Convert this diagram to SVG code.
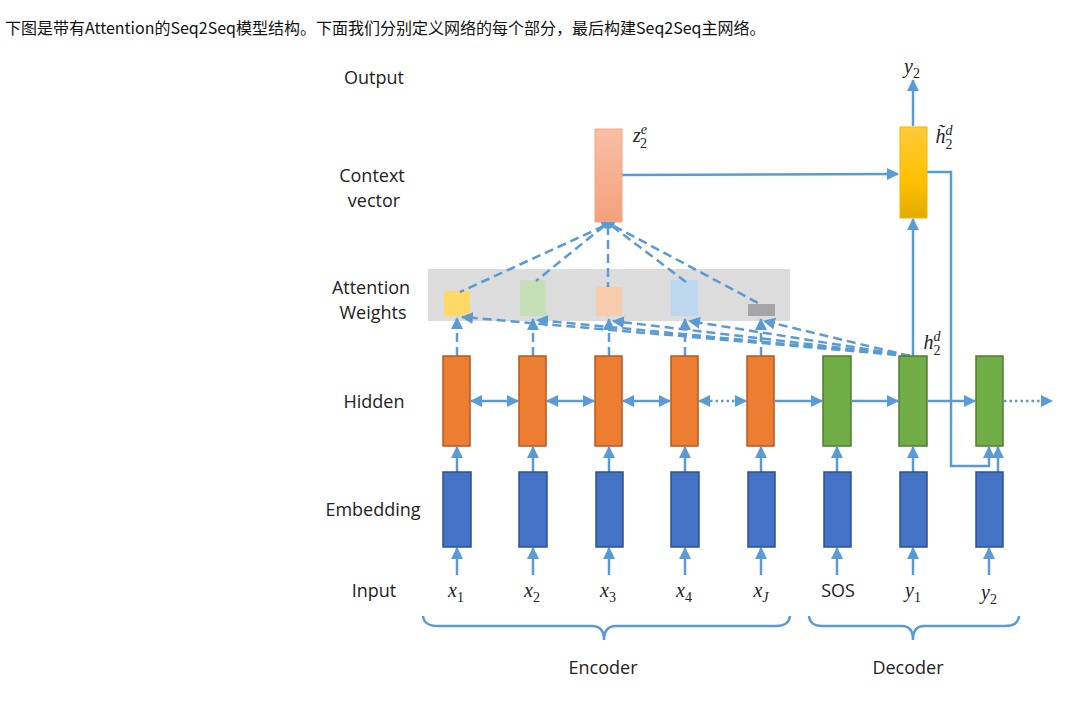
<svg xmlns="http://www.w3.org/2000/svg" width="1071" height="714" viewBox="0 0 1071 714">
<defs>
<marker id="ah" markerUnits="userSpaceOnUse" markerWidth="12" markerHeight="12" viewBox="0 0 12 12" refX="11" refY="6" orient="auto-start-reverse"><path d="M0,0 L12,6 L0,12 z" fill="#5B9BD5"/></marker>
<linearGradient id="gctx" x1="0" y1="0" x2="0" y2="1"><stop offset="0" stop-color="#F8BFA5"/><stop offset="1" stop-color="#F4A07A"/></linearGradient>
<linearGradient id="gdec" x1="0" y1="0" x2="0" y2="1"><stop offset="0" stop-color="#FFCA3A"/><stop offset="0.6" stop-color="#FFC000"/><stop offset="1" stop-color="#E2AC00"/></linearGradient>
<style>
.lbl{font-family:"Open Sans","Liberation Sans",sans-serif;font-size:18px;fill:#222;text-anchor:middle}
.math{font-family:"Liberation Serif","DejaVu Serif",serif;font-style:italic;font-size:20px;fill:#222;text-anchor:middle}
.sub{font-style:normal;font-size:14px}
.sup{font-style:italic;font-size:14px}
.c{stroke:#5B9BD5;stroke-width:2.5;fill:none}
.d{stroke:#5B9BD5;stroke-width:2.5;fill:none;stroke-dasharray:9 5}
.dot{stroke:#5B9BD5;stroke-width:2.5;fill:none;stroke-dasharray:2.5 3}
.enc{fill:#ED7D31;stroke:#B65A1E;stroke-width:1.5}
.dec{fill:#70AD47;stroke:#507E32;stroke-width:1.5}
.emb{fill:#4472C4;stroke:#2F528F;stroke-width:1.5}
</style>
</defs>
<rect width="1071" height="714" fill="#fff"/>
<text x="5" y="34" font-family="'Noto Sans CJK SC',sans-serif" font-size="16" fill="#111">下图是带有Attention的Seq2Seq模型结构。下面我们分别定义网络的每个部分，最后构建Seq2Seq主网络。</text>

<g id="row-labels">
<text class="lbl" x="374" y="84">Output</text>
<text class="lbl" x="372" y="182">Context</text>
<text class="lbl" x="374" y="207">vector</text>
<text class="lbl" x="371" y="294">Attention</text>
<text class="lbl" x="373" y="319">Weights</text>
<text class="lbl" x="374" y="408">Hidden</text>
<text class="lbl" x="373" y="516">Embedding</text>
<text class="lbl" x="374" y="597">Input</text>
</g>

<g id="attention-band"><rect x="428" y="269" width="362" height="52" fill="#DCDCDC"/></g>
<g id="attention-weights">
<rect x="444" y="291" width="26" height="25" fill="#FFD966"/>
<rect x="520" y="280" width="26" height="36" fill="#C5E0B4"/>
<rect x="596" y="287" width="26" height="29" fill="#F8CBAD"/>
<rect x="671" y="280" width="27" height="36" fill="#BDD7EE"/>
<rect x="748" y="304" width="27" height="12" fill="#A5A5A5"/>
</g>

<g id="connectors">
<path class="d" d="M604,226 L460,292"/>
<path class="d" d="M604,226 L536,281"/>
<path class="d" d="M608,226 L608,287"/>
<path class="d" d="M612,226 L686,282"/>
<path class="d" d="M614,226 L760,304"/>
<path class="d" d="M910,356 L462,317" marker-end="url(#ah)"/>
<path class="d" d="M910,356 L537,320" marker-end="url(#ah)"/>
<path class="d" d="M910,356 L613,321" marker-end="url(#ah)"/>
<path class="d" d="M910,356 L689,321" marker-end="url(#ah)"/>
<path class="d" d="M910,356 L764,321" marker-end="url(#ah)"/>
<path class="d" d="M457,356 L457,318" marker-end="url(#ah)"/>
<path class="d" d="M533,356 L533,319" marker-end="url(#ah)"/>
<path class="d" d="M609,356 L609,319" marker-end="url(#ah)"/>
<path class="d" d="M685,356 L685,319" marker-end="url(#ah)"/>
<path class="d" d="M761,356 L761,319" marker-end="url(#ah)"/>
<path class="c" d="M622,175 L898,174" marker-end="url(#ah)"/>
<path class="c" d="M913,356 L913,219" marker-end="url(#ah)"/>
<path class="c" d="M913,126 L913,80" marker-end="url(#ah)"/>
<path class="c" d="M927,172 L951,172 L951,466 L989,466 L989,447" marker-end="url(#ah)"/>
<path class="c" d="M471,401 L518,401" marker-start="url(#ah)" marker-end="url(#ah)"/>
<path class="c" d="M547,401 L594,401" marker-start="url(#ah)" marker-end="url(#ah)"/>
<path class="c" d="M623,401 L670,401" marker-start="url(#ah)" marker-end="url(#ah)"/>
<path class="dot" d="M699,401 L746,401" marker-start="url(#ah)" marker-end="url(#ah)"/>
<path class="c" d="M775,401 L822,401" marker-end="url(#ah)"/>
<path class="c" d="M852,401 L898,401" marker-end="url(#ah)"/>
<path class="c" d="M928,401 L975,401" marker-end="url(#ah)"/>
<path class="dot" d="M1004,401 L1052,401" marker-end="url(#ah)"/>
<path class="c" d="M457,472 L457,447" marker-end="url(#ah)"/>
<path class="c" d="M533,472 L533,447" marker-end="url(#ah)"/>
<path class="c" d="M609,472 L609,447" marker-end="url(#ah)"/>
<path class="c" d="M685,472 L685,447" marker-end="url(#ah)"/>
<path class="c" d="M761,472 L761,447" marker-end="url(#ah)"/>
<path class="c" d="M837,472 L837,447" marker-end="url(#ah)"/>
<path class="c" d="M913,472 L913,447" marker-end="url(#ah)"/>
<path class="c" d="M998,472 L998,447" marker-end="url(#ah)"/>
<path class="c" d="M457,575 L457,548" marker-end="url(#ah)"/>
<path class="c" d="M533,575 L533,548" marker-end="url(#ah)"/>
<path class="c" d="M609,575 L609,548" marker-end="url(#ah)"/>
<path class="c" d="M685,575 L685,548" marker-end="url(#ah)"/>
<path class="c" d="M761,575 L761,548" marker-end="url(#ah)"/>
<path class="c" d="M837,575 L837,548" marker-end="url(#ah)"/>
<path class="c" d="M913,575 L913,548" marker-end="url(#ah)"/>
<path class="c" d="M989,575 L989,548" marker-end="url(#ah)"/>
<path class="c" d="M423,616 Q424,626 438,626 L592,626 Q604,626 604,640 Q604,626 616,626 L776,626 Q789,626 790,616"/>
<path class="c" d="M809,616 Q810,626 822,626 L902,626 Q913,626 913,640 Q913,626 924,626 L1005,626 Q1018,626 1019,616"/>
</g>

<g id="context-vector">
<rect x="595" y="129" width="27" height="93" fill="url(#gctx)" stroke="#F4A57E" stroke-width="1"/>
<path d="M601,222 A7,7 0 0 0 615,222 Z" fill="#5B9BD5"/>
<text class="math" x="640" y="142">z<tspan class="sup" dy="-8">e</tspan><tspan class="sub" dx="-7" dy="14">2</tspan></text>
</g>

<g id="decoder-attn">
<rect x="900" y="127" width="27" height="91" fill="url(#gdec)" stroke="#F2B800" stroke-width="1"/>
<text class="math" x="944" y="143">h̃<tspan class="sup" dy="-8">d</tspan><tspan class="sub" dx="-7" dy="14">2</tspan></text>
<text class="math" x="912" y="73">y<tspan class="sub" dy="5">2</tspan></text>
</g>

<g id="enc-hidden">
<rect class="enc" x="443" y="356" width="27" height="90"/>
<rect class="enc" x="519" y="356" width="27" height="90"/>
<rect class="enc" x="595" y="356" width="27" height="90"/>
<rect class="enc" x="671" y="356" width="27" height="90"/>
<rect class="enc" x="747" y="356" width="27" height="90"/>
</g>
<g id="dec-hidden">
<rect class="dec" x="823" y="356" width="28" height="90"/>
<rect class="dec" x="899" y="356" width="28" height="90"/>
<rect class="dec" x="976" y="356" width="27" height="90"/>
<text class="math" x="932" y="349">h<tspan class="sup" dy="-8">d</tspan><tspan class="sub" dx="-7" dy="14">2</tspan></text>
</g>
<g id="embedding">
<rect class="emb" x="443" y="472" width="28" height="75"/>
<rect class="emb" x="519" y="472" width="28" height="75"/>
<rect class="emb" x="596" y="472" width="27" height="75"/>
<rect class="emb" x="671" y="472" width="28" height="75"/>
<rect class="emb" x="748" y="472" width="27" height="75"/>
<rect class="emb" x="824" y="472" width="27" height="75"/>
<rect class="emb" x="900" y="472" width="27" height="75"/>
<rect class="emb" x="976" y="472" width="27" height="75"/>
</g>
<g id="inputs">
<text class="math" x="456" y="597">x<tspan class="sub" dy="5">1</tspan></text>
<text class="math" x="532" y="597">x<tspan class="sub" dy="5">2</tspan></text>
<text class="math" x="608" y="597">x<tspan class="sub" dy="5">3</tspan></text>
<text class="math" x="684" y="597">x<tspan class="sub" dy="5">4</tspan></text>
<text class="math" x="761" y="597">x<tspan class="sup" dy="5">J</tspan></text>
<text class="lbl" x="838" y="597">SOS</text>
<text class="math" x="913" y="597">y<tspan class="sub" dy="5">1</tspan></text>
<text class="math" x="989" y="599">y<tspan class="sub" dy="5">2</tspan></text>
</g>
<g id="groups">
<text class="lbl" x="603" y="674">Encoder</text>
<text class="lbl" x="908" y="674">Decoder</text>
</g>
</svg>
